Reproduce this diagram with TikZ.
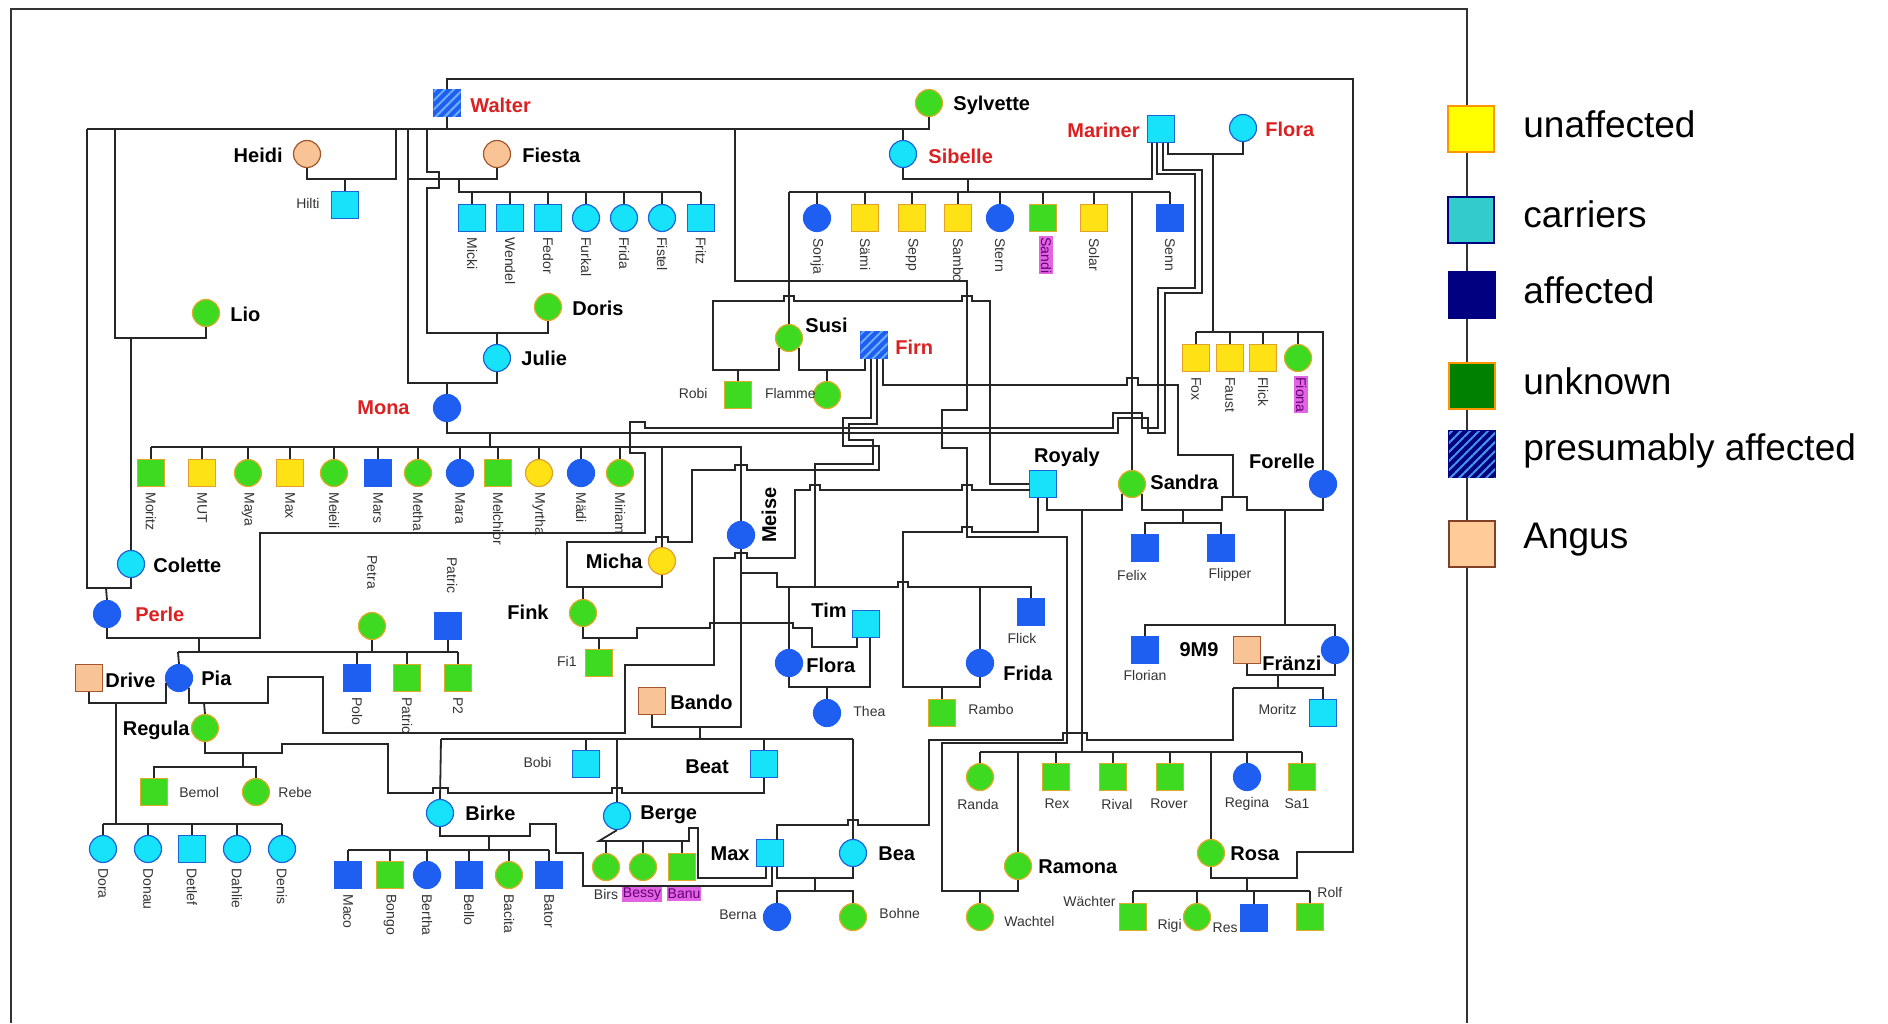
\documentclass[tikz,border=0pt]{standalone}
\usepackage{fontspec}
\setmainfont{Liberation Sans}
\usetikzlibrary{patterns,patterns.meta}

\definecolor{carcyan}{RGB}{22,226,250}
\definecolor{carline}{RGB}{25,100,215}
\definecolor{affblue}{RGB}{30,94,240}
\definecolor{hatchblue}{RGB}{110,175,255}
\definecolor{unyellow}{RGB}{255,226,22}
\definecolor{unline}{RGB}{228,160,40}
\definecolor{ukgreen}{RGB}{62,218,34}
\definecolor{ukline}{RGB}{222,170,40}
\definecolor{peach}{RGB}{248,196,150}
\definecolor{peachline}{RGB}{165,85,45}
\definecolor{namered}{RGB}{218,32,32}
\definecolor{pinkbg}{RGB}{226,100,226}
\definecolor{pinktext}{RGB}{100,0,120}
\definecolor{legyellow}{RGB}{255,255,0}
\definecolor{legorange}{RGB}{255,150,0}
\definecolor{legteal}{RGB}{51,204,204}
\definecolor{legnavy}{RGB}{0,0,128}
\definecolor{leggreen}{RGB}{0,128,0}
\definecolor{legstripe}{RGB}{70,150,230}
\definecolor{legpeach}{RGB}{255,204,153}
\definecolor{legbrown}{RGB}{128,64,40}

\begin{document}
\begin{tikzpicture}[x=0.5pt, y=-0.5pt,
famline/.style={draw=black!85, line width=0.9pt},
sqr/.style={rectangle, draw, line width=0.6pt, inner sep=0pt, minimum size=13.5pt},
crc/.style={circle, draw, line width=0.6pt, inner sep=0pt, minimum size=13.5pt},
carrier/.style={fill=carcyan, draw=carline},
affected/.style={fill=affblue, draw=affblue},
unaff/.style={fill=unyellow, draw=unline},
unknown/.style={fill=ukgreen, draw=ukline},
angus/.style={fill=peach, draw=peachline},
presum/.style={fill=affblue, draw=affblue, postaction={pattern={Lines[angle=45,distance=3.2pt,line width=1pt]}, pattern color=hatchblue}},
bigname/.style={font=\fontsize{10}{12}\selectfont\bfseries, inner sep=0pt},
redname/.style={bigname, text=namered},
smallname/.style={font=\fontsize{7}{8}\selectfont, inner sep=0pt, text=black!80},
downname/.style={smallname, rotate=-90, anchor=west},
pinkname/.style={fill=pinkbg, text=pinktext, inner xsep=0.5pt, inner ysep=1pt},
legbox/.style={rectangle, draw, line width=0.9pt, inner sep=0pt, minimum size=23pt},
legtext/.style={font=\fontsize{18.5}{22}\selectfont, anchor=west, inner sep=0pt}]
\useasboundingbox (0,0) rectangle (1888,1023);
\draw[black!80, line width=0.7pt] (11,1023) -- (11,9) -- (1467,9) -- (1467,1023);

% founders
\node[sqr,presum] (walter) at (447,103) {};
\node[redname,anchor=west] (lwalter) at (470,105) {Walter};
\node[crc,unknown] (sylvette) at (929,103) {};
\node[bigname,anchor=west] (lsylvette) at (953,105) {Sylvette};
\node[crc,angus] (heidi) at (307,154) {};
\node[bigname,anchor=east] (lheidi) at (283,155) {Heidi};
\node[sqr,carrier] (hilti) at (345,205) {};
\node[smallname,anchor=east] (lhilti) at (320,203) {Hilti};
\node[crc,angus] (fiesta) at (497,154) {};
\node[bigname,anchor=west] (lfiesta) at (522,155) {Fiesta};
\node[sqr,carrier] (mariner) at (1161,129) {};
\node[redname,anchor=east] (lmariner) at (1140,130) {Mariner};
\node[crc,carrier] (florat) at (1243,128) {};
\node[redname,anchor=west] (lflorat) at (1265,129) {Flora};
\node[crc,carrier] (sibelle) at (903,154) {};
\node[redname,anchor=west] (lsibelle) at (928,156) {Sibelle};

% Fiesta's litter
\node[sqr,carrier] (micki) at (472,218) {};
\node[sqr,carrier] (wendel) at (510,218) {};
\node[sqr,carrier] (fedor) at (548,218) {};
\node[crc,carrier] (furkal) at (586,218) {};
\node[crc,carrier] (fridac) at (624,218) {};
\node[crc,carrier] (fistel) at (662,218) {};
\node[sqr,carrier] (fritz) at (701,218) {};
\node[downname] (lmicki) at (472,237) {Micki};
\node[downname] (lwendel) at (510,237) {Wendel};
\node[downname] (lfedor) at (548,237) {Fedor};
\node[downname] (lfurkal) at (586,237) {Furkal};
\node[downname] (lfridac) at (624,237) {Frida};
\node[downname] (lfistel) at (662,237) {Fistel};
\node[downname] (lfritz) at (701,237) {Fritz};

% Sibelle's litter
\node[crc,affected] (sonja) at (817,218) {};
\node[sqr,unaff] (saemi) at (865,218) {};
\node[sqr,unaff] (sepp) at (912,218) {};
\node[sqr,unaff] (sambo) at (958,218) {};
\node[crc,affected] (stern) at (1000,218) {};
\node[sqr,unknown] (sandi) at (1043,218) {};
\node[sqr,unaff] (solar) at (1094,218) {};
\node[sqr,affected] (senn) at (1170,218) {};
\node[downname] (lsonja) at (817,238) {Sonja};
\node[downname] (lsaemi) at (865,238) {Sämi};
\node[downname] (lsepp) at (912,238) {Sepp};
\node[downname] (lsambo) at (958,238) {Sambo};
\node[downname] (lstern) at (1000,238) {Stern};
\node[downname,pinkname] (lsandi) at (1046,236) {Sandi};
\node[downname] (lsolar) at (1094,238) {Solar};
\node[downname] (lsenn) at (1170,238) {Senn};

\node[crc,unknown] (lio) at (206,313) {};
\node[bigname,anchor=west] (llio) at (230,314) {Lio};
\node[crc,unknown] (doris) at (548,307) {};
\node[bigname,anchor=west] (ldoris) at (572,308) {Doris};
\node[crc,carrier] (julie) at (497,358) {};
\node[bigname,anchor=west] (ljulie) at (521,358) {Julie};
\node[crc,affected] (mona) at (447,408) {};
\node[redname,anchor=east] (lmona) at (410,408) {Mona};
\node[crc,unknown] (susi) at (789,338) {};
\node[bigname,anchor=west] (lsusi) at (805,325) {Susi};
\node[sqr,presum] (firn) at (874,345) {};
\node[redname,anchor=west] (lfirn) at (895,347) {Firn};
\node[sqr,unknown] (robi) at (738,395) {};
\node[smallname,anchor=east] (lrobi) at (708,393) {Robi};
\node[crc,unknown] (flamme) at (827,395) {};
\node[smallname,anchor=east] (lflamme) at (816,393) {Flamme};

% Flora's litter
\node[sqr,unaff] (fox) at (1196,358) {};
\node[sqr,unaff] (faust) at (1230,358) {};
\node[sqr,unaff] (flicky) at (1263,358) {};
\node[crc,unknown] (fiona) at (1298,358) {};
\node[downname] (lfox) at (1196,377) {Fox};
\node[downname] (lfaust) at (1230,377) {Faust};
\node[downname] (lflicky) at (1263,377) {Flick};
\node[downname,pinkname] (lfiona) at (1301,376) {Fiona};

% Mona's litter
\node[sqr,unknown] (moritz) at (151,473) {};
\node[sqr,unaff] (mut) at (202,473) {};
\node[crc,unknown] (maya) at (248,473) {};
\node[sqr,unaff] (maxm) at (290,473) {};
\node[crc,unknown] (meieli) at (334,473) {};
\node[sqr,affected] (mars) at (378,473) {};
\node[crc,unknown] (metha) at (418,473) {};
\node[crc,affected] (mara) at (460,473) {};
\node[sqr,unknown] (melchior) at (498,473) {};
\node[crc,unaff] (myrtha) at (539,473) {};
\node[crc,affected] (maedi) at (581,473) {};
\node[crc,unknown] (miriam) at (620,473) {};
\node[downname] (lmoritz) at (151,492) {Moritz};
\node[downname] (lmut) at (202,492) {MUT};
\node[downname] (lmaya) at (248,492) {Maya};
\node[downname] (lmaxm) at (290,492) {Max};
\node[downname] (lmeieli) at (334,492) {Meieli};
\node[downname] (lmars) at (378,492) {Mars};
\node[downname] (lmetha) at (418,492) {Metha};
\node[downname] (lmara) at (460,492) {Mara};
\node[downname] (lmelchior) at (498,492) {Melchior};
\node[downname] (lmyrtha) at (539,492) {Myrtha};
\node[downname] (lmaedi) at (581,492) {Mädi};
\node[downname] (lmiriam) at (620,492) {Miriam};

\node[crc,carrier] (colette) at (131,564) {};
\node[bigname,anchor=west] (lcolette) at (153,565) {Colette};
\node[crc,affected] (perle) at (107,614) {};
\node[redname,anchor=west] (lperle) at (135,614) {Perle};
\node[crc,unaff] (micha) at (662,561) {};
\node[bigname,anchor=east] (lmicha) at (643,561) {Micha};
\node[crc,affected] (meise) at (741,535) {};
\node[bigname,rotate=90] (lmeise) at (769,515) {Meise};
\node[crc,unknown] (fink) at (583,613) {};
\node[bigname,anchor=east] (lfink) at (549,612) {Fink};
\node[sqr,unknown] (fi1) at (599,663) {};
\node[smallname,anchor=east] (lfi1) at (577,661) {Fi1};
\node[crc,unknown] (petra) at (372,626) {};
\node[downname] (lpetra) at (372,555) {Petra};
\node[sqr,affected] (patric) at (448,626) {};
\node[downname] (lpatric) at (452,557) {Patric};
\node[sqr,affected] (polo) at (357,678) {};
\node[sqr,unknown] (patrick) at (407,678) {};
\node[sqr,unknown] (ptwo) at (458,678) {};
\node[downname] (lpolo) at (357,697) {Polo};
\node[downname] (lpatrick) at (407,697) {Patric};
\node[downname] (lptwo) at (458,697) {P2};
\node[sqr,angus] (drive) at (89,678) {};
\node[bigname,anchor=west] (ldrive) at (105,680) {Drive};
\node[crc,affected] (pia) at (179,678) {};
\node[bigname,anchor=west] (lpia) at (201,678) {Pia};
\node[crc,unknown] (regula) at (205,728) {};
\node[bigname,anchor=east] (lregula) at (190,730) {Regula};
\node[sqr,carrier] (tim) at (866,624) {};
\node[bigname] (ltim) at (829,610) {Tim};
\node[crc,affected] (floram) at (789,663) {};
\node[bigname,anchor=west] (lfloram) at (806,665) {Flora};
\node[crc,affected] (thea) at (827,713) {};
\node[smallname,anchor=west] (lthea) at (853,711) {Thea};
\node[sqr,angus] (bando) at (652,701) {};
\node[bigname,anchor=west] (lbando) at (670,702) {Bando};

\node[sqr,carrier] (royaly) at (1043,484) {};
\node[bigname] (lroyaly) at (1067,457) {Royaly};
\node[crc,unknown] (sandra) at (1132,484) {};
\node[bigname,anchor=west] (lsandra) at (1150,482) {Sandra};
\node[crc,affected] (forelle) at (1323,484) {};
\node[bigname] (lforelle) at (1282,461) {Forelle};
\node[sqr,affected] (felix) at (1145,548) {};
\node[smallname] (lfelix) at (1132,575) {Felix};
\node[sqr,affected] (flipper) at (1221,548) {};
\node[smallname] (lflipper) at (1230,575) {Flipper};
\node[sqr,affected] (flickb) at (1031,612) {};
\node[smallname] (lflickb) at (1022,638) {Flick};
\node[crc,affected] (frida) at (980,663) {};
\node[bigname,anchor=west] (lfrida) at (1003,673) {Frida};
\node[sqr,unknown] (rambo) at (942,713) {};
\node[smallname,anchor=west] (lrambo) at (968,709) {Rambo};
\node[sqr,affected] (florian) at (1145,650) {};
\node[smallname] (lflorian) at (1145,675) {Florian};
\node[sqr,angus] (ninem) at (1247,650) {};
\node[bigname] (lninem) at (1199,650) {9M9};
\node[crc,affected] (fraenzi) at (1335,650) {};
\node[bigname,anchor=west] (lfraenzi) at (1262,663) {Fränzi};
\node[sqr,carrier] (moritzr) at (1323,713) {};
\node[smallname,anchor=east] (lmoritzr) at (1297,709) {Moritz};

\node[sqr,unknown] (bemol) at (154,792) {};
\node[smallname,anchor=west] (lbemol) at (179,792) {Bemol};
\node[crc,unknown] (rebe) at (256,792) {};
\node[smallname,anchor=west] (lrebe) at (278,792) {Rebe};
\node[sqr,carrier] (bobi) at (586,764) {};
\node[smallname,anchor=east] (lbobi) at (552,762) {Bobi};
\node[sqr,carrier] (beat) at (764,764) {};
\node[bigname] (lbeat) at (707,767) {Beat};
\node[crc,carrier] (birke) at (440,813) {};
\node[bigname,anchor=west] (lbirke) at (465,813) {Birke};
\node[crc,carrier] (berge) at (617,816) {};
\node[bigname,anchor=west] (lberge) at (640,815) {Berge};
\node[sqr,carrier] (max) at (770,853) {};
\node[bigname,anchor=east] (lmax) at (750,854) {Max};
\node[crc,carrier] (bea) at (853,853) {};
\node[bigname,anchor=west] (lbea) at (878,854) {Bea};

% Drive x Pia
\node[crc,carrier] (dora) at (103,849) {};
\node[crc,carrier] (donau) at (148,849) {};
\node[sqr,carrier] (detlef) at (192,849) {};
\node[crc,carrier] (dahlie) at (237,849) {};
\node[crc,carrier] (denis) at (282,849) {};
\node[downname] (ldora) at (103,868) {Dora};
\node[downname] (ldonau) at (148,868) {Donau};
\node[downname] (ldetlef) at (192,868) {Detlef};
\node[downname] (ldahlie) at (237,868) {Dahlie};
\node[downname] (ldenis) at (282,868) {Denis};

% Birke x Max
\node[sqr,affected] (maco) at (348,875) {};
\node[sqr,unknown] (bongo) at (390,875) {};
\node[crc,affected] (bertha) at (427,875) {};
\node[sqr,affected] (bello) at (469,875) {};
\node[crc,unknown] (bacita) at (509,875) {};
\node[sqr,affected] (bator) at (549,875) {};
\node[downname] (lmaco) at (348,894) {Maco};
\node[downname] (lbongo) at (390,894) {Bongo};
\node[downname] (lbertha) at (427,894) {Bertha};
\node[downname] (lbello) at (469,894) {Bello};
\node[downname] (lbacita) at (509,894) {Bacita};
\node[downname] (lbator) at (549,894) {Bator};

\node[crc,unknown] (birs) at (606,867) {};
\node[crc,unknown] (bessy) at (643,867) {};
\node[sqr,unknown] (banu) at (682,867) {};
\node[smallname] (lbirs) at (606,894) {Birs};
\node[smallname,pinkname] (lbessy) at (642,894) {Bessy};
\node[smallname,pinkname] (lbanu) at (684,894) {Banu};
\node[crc,affected] (berna) at (777,917) {};
\node[smallname,anchor=east] (lberna) at (757,915) {Berna};
\node[crc,unknown] (bohne) at (853,917) {};
\node[smallname,anchor=west] (lbohne) at (879,913) {Bohne};

% Royaly x Sandra
\node[crc,unknown] (randa) at (980,777) {};
\node[sqr,unknown] (rex) at (1056,777) {};
\node[sqr,unknown] (rival) at (1113,777) {};
\node[sqr,unknown] (rover) at (1170,777) {};
\node[crc,affected] (regina) at (1247,777) {};
\node[sqr,unknown] (saone) at (1302,777) {};
\node[smallname] (lranda) at (978,804) {Randa};
\node[smallname] (lrex) at (1057,804) {Rex};
\node[smallname] (lrival) at (1117,804) {Rival};
\node[smallname] (lrover) at (1169,804) {Rover};
\node[smallname] (lregina) at (1247,804) {Regina};
\node[smallname] (lsaone) at (1297,804) {Sa1};
\node[crc,unknown] (ramona) at (1018,866) {};
\node[bigname,anchor=west] (lramona) at (1038,867) {Ramona};
\node[crc,unknown] (rosa) at (1211,853) {};
\node[bigname,anchor=west] (lrosa) at (1230,854) {Rosa};
\node[crc,unknown] (wachtel) at (980,917) {};
\node[smallname,anchor=west] (lwachtel) at (1004,921) {Wachtel};
\node[sqr,unknown] (waechter) at (1133,917) {};
\node[smallname,anchor=east] (lwaechter) at (1116,901) {Wächter};
\node[crc,unknown] (rigi) at (1197,917) {};
\node[smallname,anchor=east] (lrigi) at (1182,926) {Rigi};
\node[sqr,affected] (res) at (1254,918) {};
\node[smallname,anchor=east] (lres) at (1238,928) {Res};
\node[sqr,unknown] (rolf) at (1310,917) {};
\node[smallname,anchor=west] (lrolf) at (1317,892) {Rolf};

% connections, top part
\draw[famline] (walter.north) -- (447,79) -- (1353,79) -- (1353,852) -- (1297,852) -- (1297,878) -| (rosa.south);
\draw[famline] (walter.south) -- (447,129);
\draw[famline] (87,129) -| (sylvette.south);
\draw[famline] (heidi.south) |- (396,179) -- (396,129);
\draw[famline] (345,179) -- (hilti.north);
\draw[famline] (87,129) |- (131,588) -- (colette.south);
\draw[famline] (106,588) -- (perle.north);
\draw[famline] (115,129) |- (206,338) -- (lio.south);
\draw[famline] (131,338) -- (colette.north);
\draw[famline] (408,129) |- (497,383) -- (julie.south);
\draw[famline] (447,383) -- (mona.north);
\draw[famline] (427,129) -- (427,172) -- (439,172) -- (439,188) -- (427,188) |- (548,333) -- (doris.south);
\draw[famline] (497,333) -- (julie.north);
\draw[famline] (fiesta.south) |- (408,179);
\draw[famline] (459,179) -- (459,192) -- (701,192);
\draw[famline] (472,192) -- (micki.north) (510,192) -- (wendel.north) (548,192) -- (fedor.north) (586,192) -- (furkal.north) (624,192) -- (fridac.north) (662,192) -- (fistel.north) (701,192) -- (fritz.north);
\draw[famline] (903,129) -- (sibelle.north);
\draw[famline] (sibelle.south) |- (1152,179) -- (1152,142.5);
\draw[famline] (968,179) -- (968,192);
\draw[famline] (789,192) -- (1170,192);
\draw[famline] (817,192) -- (sonja.north) (865,192) -- (saemi.north) (912,192) -- (sepp.north) (958,192) -- (sambo.north) (1000,192) -- (stern.north) (1043,192) -- (sandi.north) (1094,192) -- (solar.north) (1170,192) -- (senn.north);
\draw[famline] (1132,192) -- (sandra.north);
\draw[famline] (789,192) -- (susi.north);
\draw[famline] (735,129) |- (967,281) -- (967,410) -- (942,410) -- (942,448) -- (967,448) -- (967,537) -- (1067,537) -- (1067,743) -- (942,743) |- (1018,891) -- (ramona.south);
\draw[famline] (980,891) -- (wachtel.north);
\draw[famline] (susi.-135) |- (713,370) -- (713,301) -- (784,301) -- (784,296) -- (794,296) -- (794,301) -- (962,301) -- (962,296) -- (972,296) -- (972,301) -- (990,301) |- (royaly.west);
\draw[famline] (738,370) -- (robi.north);

% Firn
\draw[famline] (865,358.5) -- (865,370) -| (susi.-45);
\draw[famline] (827,370) -- (flamme.north);
\draw[famline] (871,358.5) -- (871,418) -- (843,418) -- (843,446) -- (879,446) -- (879,470) -- (747,470) -- (747,465) -- (735,465) -- (735,470) -- (692,470) -- (692,542) -- (668,542) -- (668,537) -- (656,537) -- (656,542) -- (567,542) |- (662,587) -- (micha.south);
\draw[famline] (583,587) -- (fink.north);
\draw[famline] (877,358.5) -- (877,424) -- (849,424) -- (849,440) -- (873,440) -- (873,464) -- (815,464) -- (815,587);
\draw[famline] (883,358.5) -- (883,385) -- (1127,385) -- (1127,378) -- (1138,378) -- (1138,385) -- (1178,385) -- (1178,455) -- (1233,455) -- (1233,497);

% Mariner
\draw[famline] (1168,142.5) |- (1243,154) -- (florat.south);
\draw[famline] (1213,154) -- (1213,332);
\draw[famline] (1196,332) -- (1323,332) -- (forelle.north);
\draw[famline] (1196,332) -- (fox.north) (1230,332) -- (faust.north) (1263,332) -- (flicky.north) (1298,332) -- (fiona.north);
\draw[famline] (1157,142.5) -- (1157,174) -- (1195,174) -- (1195,288) -- (1158,288) -- (1158,428) -- (1142,428) -- (1142,413) -- (1113,413) -- (1113,428) -- (645,428) -- (645,422) -- (630,422) -- (630,453) -- (645,453) -- (645,533) -- (260,533) -- (260,638) -| (perle.south);
\draw[famline] (199,638) -- (199,652);
\draw[famline] (178,652) -- (458,652);
\draw[famline] (178,652) -- (pia.north) (357,652) -- (polo.north) (407,652) -- (patrick.north) (458,652) -- (ptwo.north);
\draw[famline] (petra.south) -- (372,652) (patric.south) -- (448,652);
\draw[famline] (1163,142.5) -- (1163,170) -- (1202,170) -- (1202,293) -- (1165,293) -- (1165,433) -- (1148,433) -- (1148,418) -- (1118,418) -- (1118,433) -| (mona.south);
\draw[famline] (490,433) -- (490,447);
\draw[famline] (151,447) -| (meise.north);
\draw[famline] (151,447) -- (moritz.north) (202,447) -- (mut.north) (248,447) -- (maya.north) (290,447) -- (maxm.north) (334,447) -- (meieli.north) (378,447) -- (mars.north) (418,447) -- (metha.north) (460,447) -- (mara.north) (498,447) -- (melchior.north) (539,447) -- (myrtha.north) (581,447) -- (maedi.north) (620,447) -- (miriam.north);
\draw[famline] (662,447) -- (micha.north);

% Pia, Drive, Regula
\draw[famline] (pia.-45) |- (268,703) -- (268,677) -- (323,677) -- (323,733) -- (625,733) -- (625,665) -- (714,665) -- (714,558) -- (735,558) -- (735,553) -- (747,553) -- (747,558) -- (795,558) -- (795,490) -- (810,490) -- (810,485) -- (820,485) -- (820,490) -- (962,490) -- (962,485) -- (972,485) -- (972,490) -- (1029.5,490);
\draw[famline] (204,703) -- (regula.north);
\draw[famline] (drive.south) -- (89,703) -| (pia.-160);
\draw[famline] (116,703) -- (116,824);
\draw[famline] (103,824) -- (282,824);
\draw[famline] (103,824) -- (dora.north) (148,824) -- (donau.north) (192,824) -- (detlef.north) (237,824) -- (dahlie.north) (282,824) -- (denis.north);
\draw[famline] (regula.south) |- (282,753) -- (282,744) -- (388,744) |- (433,793) -- (433,788) -- (448,788) -- (448,793) -- (612,793) -- (612,788) -- (622,788) -- (622,793) -| (beat.south);
\draw[famline] (243,753) -- (243,767);
\draw[famline] (bemol.north) |- (256,767) -- (rebe.north);

% Meise, Bando
\draw[famline] (bando.south) |- (741,727) -- (meise.south);
\draw[famline] (741,573) -- (777,573) -- (777,587) -- (898,587) -- (898,582) -- (908,582) -- (908,587) -| (flickb.north);
\draw[famline] (789,587) -- (floram.north) (980,587) -- (frida.north);
\draw[famline] (700,727) -- (700,739);
\draw[famline] (441,739) -- (853,739);
\draw[famline] (441,739) -- (birke.north) (586,739) -- (bobi.north) (617,739) -- (berge.north) (764,739) -- (beat.north) (853,739) -- (bea.north);

% Royaly, Sandra, Forelle
\draw[famline] (1038,497.5) -- (1038,532) -- (972,532) -- (972,527) -- (962,527) -- (962,532) -- (903,532) |- (980,687) -- (frida.south);
\draw[famline] (942,687) -- (rambo.north);
\draw[famline] (1047,497.5) -- (1047,510) -| (sandra.-135);
\draw[famline] (1082,510) -- (1082,752);
\draw[famline] (980,752) -- (1302,752);
\draw[famline] (980,752) -- (randa.north) (1018,752) -- (ramona.north) (1056,752) -- (rex.north) (1113,752) -- (rival.north) (1170,752) -- (rover.north) (1211,752) -- (rosa.north) (1247,752) -- (regina.north) (1302,752) -- (saone.north);
\draw[famline] (sandra.-45) |- (1222,510) -- (1222,497) -- (1247,497) -- (1247,510) -| (forelle.south);
\draw[famline] (1183,510) -- (1183,523);
\draw[famline] (felix.north) |- (1221,523) -- (flipper.north);
\draw[famline] (1285,510) -- (1285,625);
\draw[famline] (florian.north) |- (1335,625) -- (fraenzi.north);
\draw[famline] (ninem.south) |- (1335,675) -- (fraenzi.south);
\draw[famline] (1278,675) -- (1278,688);
\draw[famline] (1233,688) -| (moritzr.north);
\draw[famline] (1233,688) -- (1233,740) -- (1087,740) -- (1087,733) -- (1063,733) -- (1063,740) -- (929,740) -- (929,825) -- (858,825) -- (858,820) -- (848,820) -- (848,825) -- (777,825) -- (777,839.5);

% Fink, Tim, Flora
\draw[famline] (fink.south) |- (637,638) -- (637,628) -- (710,628) -- (710,623) -- (793,623) -- (793,628) -- (812,628) -- (812,647) -- (857,647) -- (857,637.5);
\draw[famline] (599,638) -- (fi1.north);
\draw[famline] (870,637.5) |- (789,687) -- (floram.south);
\draw[famline] (827,687) -- (thea.north);

% Max
\draw[famline] (birke.south) |- (530,836) -- (530,824) -- (556,824) -- (556,853) -- (583,853) -- (583,886) -- (772,886) -- (772,866.5);
\draw[famline] (489,836) -- (489,850);
\draw[famline] (348,850) -- (549,850);
\draw[famline] (348,850) -- (maco.north) (390,850) -- (bongo.north) (427,850) -- (bertha.north) (469,850) -- (bello.north) (509,850) -- (bacita.north) (549,850) -- (bator.north);
\draw[famline] (berge.south) -- (599,841) -- (689,841) -- (689,828) -- (698,828) -- (698,878) -- (766,878) -- (766,866.5);
\draw[famline] (606,841) -- (birs.north) (643,841) -- (bessy.north) (682,841) -- (banu.north);
\draw[famline] (777,866.5) -- (777,878) -| (bea.south);
\draw[famline] (815,878) -- (815,891);
\draw[famline] (berna.north) |- (853,891) -- (bohne.north);
\draw[famline] (1247,878) -- (1247,891);
\draw[famline] (1133,891) -- (1310,891);
\draw[famline] (1133,891) -- (waechter.north) (1197,891) -- (rigi.north) (1254,891) -- (res.north) (1310,891) -- (rolf.north);

% legend
\node[legbox, fill=legyellow, draw=legorange] (keyunaff) at (1471,129) {};
\node[legtext] (tunaff) at (1523,124) {unaffected};
\node[legbox, fill=legteal, draw=legnavy] (keycarrier) at (1471,220) {};
\node[legtext] (tcarrier) at (1523,214) {carriers};
\node[legbox, fill=legnavy, draw=legnavy] (keyaffected) at (1472,295) {};
\node[legtext] (taffected) at (1523,290) {affected};
\node[legbox, fill=leggreen, draw=legorange] (keyunknown) at (1472,386) {};
\node[legtext] (tunknown) at (1523,381) {unknown};
\node[legbox, fill=legnavy, draw=legnavy, postaction={pattern={Lines[angle=45,distance=3.2pt,line width=1pt]}, pattern color=legstripe}] (keypresum) at (1472,454) {};
\node[legtext] (tpresum) at (1523,451) {presumably affected};
\node[legbox, fill=legpeach, draw=legbrown] (keyangus) at (1472,544) {};
\node[legtext] (tangus) at (1523,540) {Angus};
\end{tikzpicture}
\end{document}
